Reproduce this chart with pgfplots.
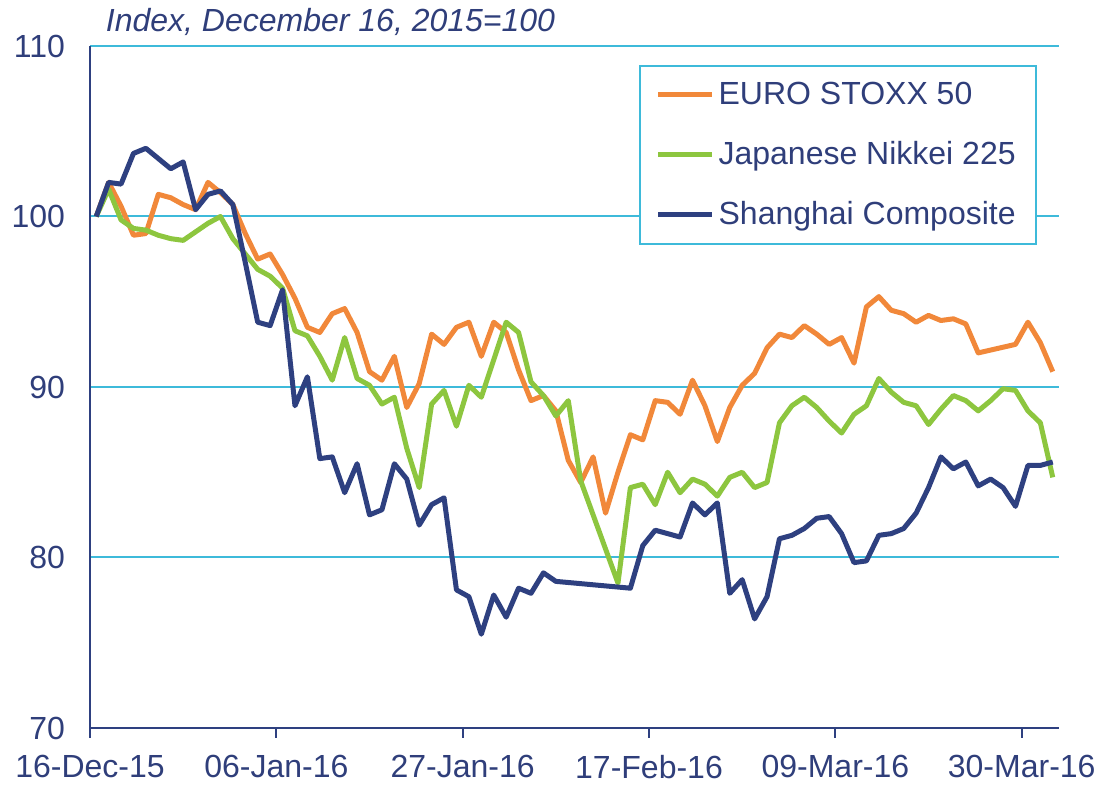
\documentclass[border=0pt]{standalone}
\usepackage{fontspec}
\setmainfont{Liberation Sans}
\usepackage{pgfplots}
\pgfplotsset{compat=1.18}
\definecolor{euro}{RGB}{241,136,58}
\definecolor{nikkei}{RGB}{141,198,63}
\definecolor{shang}{RGB}{46,64,128}
\definecolor{txt}{RGB}{47,62,122}
\definecolor{gridc}{RGB}{62,186,218}
\begin{document}
\begin{tikzpicture}
\begin{axis}[
  scale only axis, width=484.5pt, height=341pt,
  xmin=-0.5, xmax=77.5, ymin=70, ymax=110,
  axis x line*=bottom, axis y line*=left,
  axis line style={shang, line width=1pt},
  xtick={-0.5,14.5,29.5,44.5,59.5,74.5},
  xticklabels={16-Dec-15,06-Jan-16,27-Jan-16,17-Feb-16,09-Mar-16,30-Mar-16},
  ytick={80,90,100,110},
  extra y ticks={70},
  extra y tick style={grid=none},
  ymajorgrids, grid style={gridc, line width=1pt},
  ytick style={draw=none},
  xtick style={shang, line width=1pt},
  tick align=outside, major tick length=5pt,
  ticklabel style={font=\fontsize{16}{19}\selectfont, text=txt},
  /pgf/number format/assume math mode=true,
  yticklabel style={xshift=-4pt},
  xticklabel style={yshift=-5pt},
  clip=false,
  legend style={at={(0.977,0.972)}, anchor=north east, draw=gridc, line width=1pt,
    text=txt, font=\fontsize{16}{19}\selectfont, row sep=13pt,
    inner xsep=8pt, inner ysep=6pt},
  legend cell align=left,
  legend image code/.code={\draw[#1] (0pt,0pt) -- (27pt,0pt);},
  every axis plot/.append style={line width=2.5pt, line join=round},
]
\addplot[euro] coordinates {
(0,100.0) (1,102.0) (2,100.6) (3,98.9) (4,99.0) (5,101.3) (6,101.1) (7,100.7) (8,100.4) (9,102.0)
(10,101.4) (11,100.7) (12,99.0) (13,97.5) (14,97.8) (15,96.6) (16,95.2) (17,93.5) (18,93.2) (19,94.3)
(20,94.6) (21,93.2) (22,90.9) (23,90.4) (24,91.8) (25,88.8) (26,90.2) (27,93.1) (28,92.5) (29,93.5)
(30,93.8) (31,91.8) (32,93.8) (33,93.2) (34,91.0) (35,89.2) (36,89.5) (37,88.6) (38,85.7) (39,84.4)
(40,85.9) (41,82.6) (42,85.0) (43,87.2) (44,86.9) (45,89.2) (46,89.1) (47,88.4) (48,90.4) (49,88.9)
(50,86.8) (51,88.8) (52,90.1) (53,90.8) (54,92.3) (55,93.1) (56,92.9) (57,93.6) (58,93.1) (59,92.5)
(60,92.9) (61,91.4) (62,94.7) (63,95.3) (64,94.5) (65,94.3) (66,93.8) (67,94.2) (68,93.9) (69,94.0)
(70,93.7) (71,92.0) (74,92.5) (75,93.8) (76,92.6) (77,90.9)
};
\addlegendentry{EURO STOXX 50}
\addplot[nikkei] coordinates {
(0,100.0) (1,101.6) (2,99.8) (3,99.3) (4,99.2) (5,98.9) (6,98.7) (7,98.6) (8,99.1) (9,99.6)
(10,100.0) (11,98.7) (12,97.8) (13,96.9) (14,96.5) (15,95.8) (16,93.3) (17,93.0) (18,91.8) (19,90.4)
(20,92.9) (21,90.5) (22,90.1) (23,89.0) (24,89.4) (25,86.4) (26,84.1) (27,89.0) (28,89.8) (29,87.7)
(30,90.1) (31,89.4) (32,91.6) (33,93.8) (34,93.2) (35,90.3) (36,89.5) (37,88.3) (38,89.2) (39,84.5)
(42,78.5) (43,84.1) (44,84.3) (45,83.1) (46,85.0) (47,83.8) (48,84.6) (49,84.3)
(50,83.6) (51,84.7) (52,85.0) (53,84.1) (54,84.4) (55,87.9) (56,88.9) (57,89.4) (58,88.8) (59,88.0)
(60,87.3) (61,88.4) (62,88.9) (63,90.5) (64,89.7) (65,89.1) (66,88.9) (67,87.8) (68,88.7) (69,89.5)
(70,89.2) (71,88.6) (72,89.2) (73,89.9) (74,89.8) (75,88.6) (76,87.9) (77,84.7)
};
\addlegendentry{Japanese Nikkei 225}
\addplot[shang] coordinates {
(0,100.0) (1,102.0) (2,101.9) (3,103.7) (4,104.0) (5,103.4) (6,102.8) (7,103.2) (8,100.4) (9,101.3)
(10,101.5) (11,100.7) (12,97.3) (13,93.8) (14,93.6) (15,95.7) (16,88.9) (17,90.6) (18,85.8) (19,85.9)
(20,83.8) (21,85.5) (22,82.5) (23,82.8) (24,85.5) (25,84.6) (26,81.9) (27,83.1) (28,83.5) (29,78.1)
(30,77.7) (31,75.5) (32,77.8) (33,76.5) (34,78.2) (35,77.9) (36,79.1) (37,78.6)
(43,78.2) (44,80.7) (45,81.6) (46,81.4) (47,81.2) (48,83.2) (49,82.5)
(50,83.2) (51,77.9) (52,78.7) (53,76.4) (54,77.7) (55,81.1) (56,81.3) (57,81.7) (58,82.3) (59,82.4)
(60,81.4) (61,79.7) (62,79.8) (63,81.3) (64,81.4) (65,81.7) (66,82.6) (67,84.1) (68,85.9) (69,85.2)
(70,85.6) (71,84.2) (72,84.6) (73,84.1) (74,83.0) (75,85.4) (76,85.4) (77,85.6)
};
\addlegendentry{Shanghai Composite}
\node[anchor=base west, font=\itshape\fontsize{16}{19}\selectfont, text=txt, inner sep=0pt]
  at (rel axis cs:0.016,1) [yshift=7pt] {Index, December 16, 2015=100};
\end{axis}
\path (-45pt,-26.5pt) rectangle (507pt,364pt);
\end{tikzpicture}
\end{document}
